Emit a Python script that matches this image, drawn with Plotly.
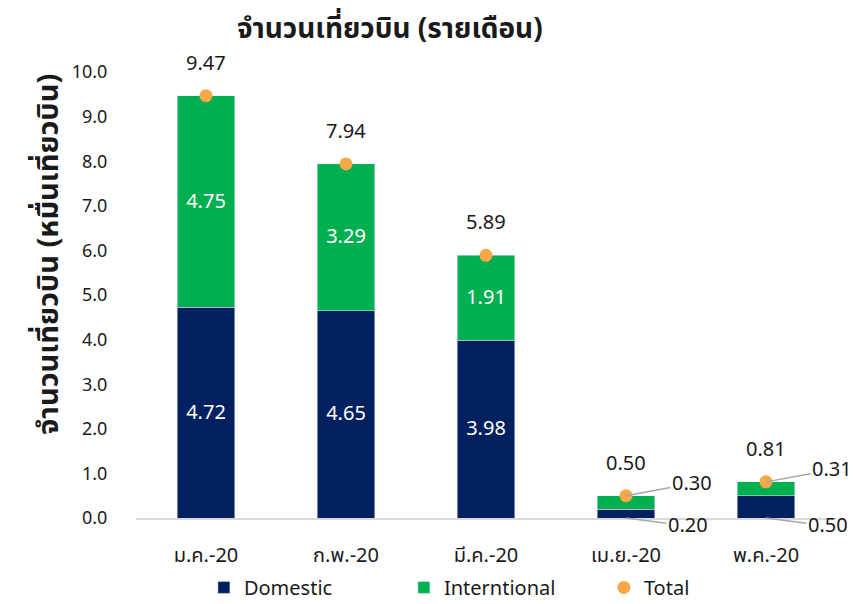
import plotly.graph_objects as go

# monthly flights (10,000 flights)
months = ['ม.ค.-20', 'ก.พ.-20', 'มี.ค.-20', 'เม.ย.-20', 'พ.ค.-20']
domestic = [4.72, 4.65, 3.98, 0.20, 0.50]
international = [4.75, 3.29, 1.91, 0.30, 0.31]
total = [9.47, 7.94, 5.89, 0.50, 0.81]

FONT = 'Tahoma, "Noto Sans Thai", "Noto Sans", sans-serif'
NAVY = '#002060'
GREEN = '#00B050'
ORANGE = '#F8A847'
GRAY = '#A6A6A6'
TXT = '#1a1a1a'


def inside_text(values):
    # small segments get a callout label instead
    return [f'{v:.2f}' if v >= 1 else '' for v in values]


fig = go.Figure()
fig.add_trace(go.Bar(x=months, y=domestic, name='Domestic', marker_color=NAVY,
                     text=inside_text(domestic), textposition='inside',
                     insidetextanchor='middle', textangle=0,
                     textfont=dict(color='white', size=20, family=FONT)))
fig.add_trace(go.Bar(x=months, y=international, name='Interntional', marker_color=GREEN,
                     text=inside_text(international), textposition='inside',
                     insidetextanchor='middle', textangle=0,
                     textfont=dict(color='white', size=20, family=FONT)))
fig.add_trace(go.Scatter(x=months, y=total, name='Total', mode='markers',
                         marker=dict(color=ORANGE, size=13), cliponaxis=False))

# total labels above the markers
for m, t in zip(months, total):
    fig.add_annotation(x=m, y=t, text=f'{t:.2f}', showarrow=False, yshift=32,
                       font=dict(size=20, color=TXT, family=FONT))

# callouts for the small bars
for m, d, i, t in zip(months, domestic, international, total):
    if i < 1:
        fig.add_annotation(x=m, y=t, text=f'{i:.2f}', showarrow=True, arrowhead=0,
                           arrowwidth=1.5, arrowcolor=GRAY, ax=66, ay=-12,
                           font=dict(size=20, color=TXT, family=FONT))
    if d < 1:
        fig.add_annotation(x=m, y=0, text=f'{d:.2f}', showarrow=True, arrowhead=0,
                           arrowwidth=1.5, arrowcolor=GRAY, ax=62, ay=8,
                           font=dict(size=20, color=TXT, family=FONT))

# y axis title as a rotated annotation (sits a bit above the plot centre)
fig.add_annotation(xref='paper', yref='paper', x=0, y=0.59, xshift=-111,
                   text='<b>จำนวนเที่ยวบิน (หมื่นเที่ยวบิน)</b>', textangle=-90,
                   showarrow=False, font=dict(size=29, color=TXT, family=FONT))

fig.update_layout(
    barmode='stack',
    bargap=0.59,
    width=853, height=604,
    paper_bgcolor='white', plot_bgcolor='white',
    margin=dict(l=136, r=17, t=72, b=86, autoexpand=False),
    font=dict(family=FONT, size=18, color=TXT),
    title=dict(text='<b>จำนวนเที่ยวบิน (รายเดือน)</b>', x=0.457, xanchor='center',
               y=0.954, yanchor='middle', font=dict(size=28, color=TXT)),
    showlegend=True,
    legend=dict(orientation='h', x=0.097, xanchor='left', y=-0.112, yanchor='top',
                entrywidth=155, font=dict(size=20), traceorder='normal'),
    xaxis=dict(range=[-0.5, 4.5], showgrid=False, showline=True, linecolor='#D9D9D9',
               linewidth=1.5, ticks='outside', ticklen=18, tickcolor='rgba(0,0,0,0)',
               tickfont=dict(size=20)),
    yaxis=dict(range=[0, 10], dtick=1, tickformat='.1f', showgrid=False,
               zeroline=False, ticks='outside', ticklen=24, tickcolor='rgba(0,0,0,0)',
               tickfont=dict(size=18)),
)

# drop the default page margin so the figure fills the window exactly
fig.write_html('out.html', config={'displayModeBar': False},
               post_script="document.body.style.margin = '0';")
